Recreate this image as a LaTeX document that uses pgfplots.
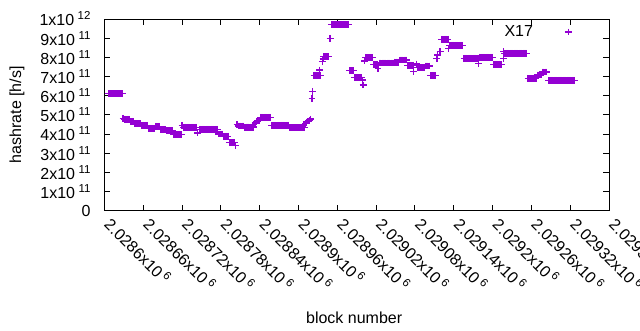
\documentclass[border=0pt]{standalone}
\usepackage{pgfplots}
\pgfplotsset{compat=1.18}
\usepackage{fontspec}
\setmainfont{Liberation Sans}
\definecolor{dviolet}{RGB}{148,0,211}
\newcommand{\fs}{\fontsize{16}{19}\selectfont}
\newcommand{\xl}[1]{#1x10\hspace{3pt}\raisebox{5.5pt}{\fontsize{11.5}{12}\selectfont 6}}
\newcommand{\yl}[2]{#1x10\hspace{3.5pt}\raisebox{6pt}{\fontsize{11.5}{12}\selectfont #2}}
\begin{document}
\begin{tikzpicture}
\useasboundingbox (-104.3pt,-119.3pt) rectangle (535.7pt,210.7pt);
\begin{axis}[
  scale only axis, width=504.7pt, height=191.7pt,
  at={(0pt,0pt)}, anchor=south west,
  xmin=2028600, xmax=2029380, ymin=0, ymax=10,
  scaled x ticks=false, scaled y ticks=false,
  axis line style={black, line width=1pt},
  tick style={black, line width=0.8pt},
  major tick length=6pt, tick align=inside,
  xtick={2028600,2028660,2028720,2028780,2028840,2028900,2028960,2029020,2029080,2029140,2029200,2029260,2029320,2029380},
  xticklabels={{\xl{2.0286}},{\xl{2.02866}},{\xl{2.02872}},{\xl{2.02878}},{\xl{2.02884}},{\xl{2.0289}},{\xl{2.02896}},{\xl{2.02902}},{\xl{2.02908}},{\xl{2.02914}},{\xl{2.0292}},{\xl{2.02926}},{\xl{2.02932}},{\xl{2.02938}}},
  ytick={0,1,2,3,4,5,6,7,8,9,10},
  yticklabels={0,{\yl{1}{11}},{\yl{2}{11}},{\yl{3}{11}},{\yl{4}{11}},{\yl{5}{11}},{\yl{6}{11}},{\yl{7}{11}},{\yl{8}{11}},{\yl{9}{11}},{\yl{1}{12}}},
  xticklabel style={font=\fs, xshift=-1pt, yshift=-15pt, rotate=-45, anchor=base west, inner sep=0pt},
  yticklabel style={font=\fs, anchor=east, inner sep=0pt, xshift=-13.6pt},
  every axis x label/.style={at={(axis description cs:0.4951,-0.5858)}, anchor=base, font=\fs},
  every axis y label/.style={at={(axis description cs:-0.1650,0.5)}, rotate=90, anchor=base, font=\fs},
  xlabel={block number},
  ylabel={hashrate [h/s]},
  legend plot pos=right,
  legend style={draw=none, fill=none, at={(axis description cs:0.9326,0.932)}, anchor=east, legend cell align=right, column sep=30pt, font=\fs},
]
\addplot[only marks, mark=+, color=dviolet, mark size=3.4pt, line width=1.3pt] coordinates {
(2028606,6.10)(2028608,6.10)(2028610,6.10)(2028612,6.10)(2028614,6.10)(2028616,6.10)(2028618,6.10)(2028620,6.10)(2028622,6.10)(2028624,6.10)(2028626,6.10)(2028628,6.10)
(2028629,4.82)
(2028631,4.77)(2028633,4.77)(2028635,4.77)(2028637,4.77)(2028639,4.77)
(2028641,4.64)(2028643,4.64)(2028645,4.64)
(2028647,4.53)(2028649,4.53)(2028651,4.53)(2028653,4.53)(2028655,4.53)
(2028657,4.45)(2028659,4.45)(2028661,4.45)(2028663,4.45)(2028665,4.45)(2028667,4.45)
(2028669,4.30)(2028671,4.30)(2028673,4.30)(2028675,4.30)(2028677,4.30)
(2028679,4.40)(2028681,4.40)(2028683,4.40)(2028685,4.40)
(2028687,4.23)(2028689,4.23)(2028691,4.23)(2028693,4.23)(2028695,4.23)
(2028697,4.18)(2028699,4.18)(2028701,4.18)(2028703,4.18)(2028705,4.18)
(2028707,3.97)(2028709,3.97)(2028711,3.97)(2028713,3.97)(2028715,3.97)(2028717,3.97)(2028719,3.97)
(2028720,4.45)
(2028722,4.35)(2028724,4.35)(2028726,4.35)(2028728,4.35)(2028730,4.35)(2028732,4.35)(2028734,4.35)(2028736,4.35)(2028738,4.35)(2028740,4.35)(2028742,4.35)
(2028744,4.05)
(2028747,4.25)(2028749,4.25)(2028751,4.25)(2028753,4.25)(2028755,4.25)(2028757,4.25)(2028759,4.25)(2028761,4.25)(2028763,4.25)(2028765,4.25)(2028767,4.25)(2028769,4.25)(2028771,4.25)(2028773,4.25)(2028775,4.25)
(2028777,4.00)(2028779,4.00)(2028781,4.00)(2028783,4.00)
(2028785,3.88)(2028787,3.88)(2028789,3.88)(2028791,3.88)
(2028793,3.55)(2028795,3.55)(2028797,3.55)(2028799,3.55)(2028801,3.55)
(2028803,3.40)
(2028805,4.48)
(2028807,4.42)(2028809,4.42)(2028811,4.42)(2028813,4.42)(2028815,4.42)
(2028817,4.36)(2028819,4.36)(2028821,4.36)(2028823,4.36)(2028825,4.36)(2028827,4.36)(2028829,4.36)(2028831,4.36)
(2028833,4.58)(2028835,4.64)(2028837,4.68)(2028839,4.72)
(2028841,4.87)(2028843,4.87)(2028845,4.87)(2028847,4.87)(2028849,4.87)(2028851,4.87)(2028853,4.87)(2028855,4.87)(2028857,4.87)
(2028859,4.45)(2028861,4.45)(2028863,4.45)(2028865,4.45)(2028867,4.45)(2028869,4.45)(2028871,4.45)(2028873,4.45)(2028875,4.45)(2028877,4.45)(2028879,4.45)(2028881,4.45)(2028883,4.45)(2028885,4.45)
(2028887,4.33)(2028889,4.33)(2028891,4.33)(2028893,4.33)(2028895,4.33)(2028897,4.33)(2028899,4.33)(2028901,4.33)(2028903,4.33)(2028905,4.33)(2028907,4.33)(2028909,4.33)
(2028911,4.55)(2028913,4.62)(2028915,4.68)(2028917,4.72)(2028919,4.78)
(2028921,5.86)(2028922,6.21)
(2028924,7.06)(2028926,7.06)(2028928,7.06)(2028930,7.06)(2028932,7.06)(2028934,7.06)
(2028933,7.34)
(2028937,7.77)(2028938,7.91)
(2028939,8.03)(2028941,8.03)(2028943,8.03)(2028945,8.03)(2028947,8.03)
(2028949,8.99)
(2028951,9.73)(2028953,9.73)(2028955,9.73)(2028957,9.73)(2028959,9.73)(2028961,9.73)(2028963,9.73)(2028965,9.73)(2028967,9.73)(2028969,9.73)(2028971,9.73)(2028973,9.73)(2028975,9.73)(2028977,9.73)
(2028979,7.30)(2028981,7.30)(2028983,7.30)(2028985,7.30)
(2028987,6.94)(2028989,6.94)(2028991,6.94)(2028993,6.94)(2028995,6.94)(2028997,6.94)
(2028999,6.82)(2029000,6.56)
(2029002,7.81)
(2029004,7.98)(2029006,7.98)(2029008,7.98)(2029010,7.98)(2029012,7.98)(2029014,7.98)
(2029016,7.64)(2029018,7.64)(2029020,7.64)(2029022,7.64)
(2029023,7.43)
(2029025,7.70)(2029027,7.70)(2029029,7.70)(2029031,7.70)(2029033,7.70)(2029035,7.70)(2029037,7.70)(2029039,7.70)(2029041,7.70)(2029043,7.70)(2029045,7.70)(2029047,7.70)
(2029049,7.75)(2029051,7.75)(2029053,7.75)(2029055,7.75)
(2029057,7.86)(2029059,7.86)(2029061,7.86)(2029063,7.86)(2029065,7.86)(2029067,7.86)
(2029069,7.58)(2029071,7.58)(2029073,7.58)(2029075,7.58)(2029077,7.58)
(2029078,7.25)
(2029082,7.65)
(2029084,7.46)(2029086,7.46)(2029088,7.46)(2029090,7.46)(2029092,7.46)(2029094,7.46)
(2029096,7.55)(2029098,7.55)(2029100,7.55)(2029102,7.55)
(2029104,7.04)(2029106,7.04)(2029108,7.04)(2029110,7.04)(2029112,7.04)
(2029114,7.95)(2029115,8.12)(2029119,8.29)
(2029121,8.94)(2029123,8.94)(2029125,8.94)(2029127,8.94)(2029129,8.94)(2029131,8.94)
(2029132,8.47)
(2029134,8.63)(2029136,8.63)(2029138,8.63)(2029140,8.63)(2029142,8.63)(2029144,8.63)(2029146,8.63)(2029148,8.63)(2029150,8.63)(2029152,8.63)(2029154,8.63)
(2029156,7.95)(2029158,7.95)(2029160,7.95)(2029162,7.95)(2029164,7.95)(2029166,7.95)(2029168,7.95)(2029170,7.95)(2029172,7.95)(2029174,7.95)(2029176,7.95)(2029178,7.95)
(2029178,7.69)
(2029180,8.00)(2029182,8.00)(2029184,8.00)(2029186,8.00)(2029188,8.00)(2029190,8.00)(2029192,8.00)(2029194,8.00)(2029196,8.00)(2029198,8.00)(2029200,8.00)
(2029202,7.64)(2029204,7.64)(2029206,7.64)(2029208,7.64)(2029210,7.64)(2029212,7.64)(2029214,7.64)
(2029217,8.29)(2029217,7.95)
(2029219,8.21)(2029221,8.21)(2029223,8.21)(2029225,8.21)(2029227,8.21)(2029229,8.21)(2029231,8.21)(2029233,8.21)(2029235,8.21)(2029237,8.21)(2029239,8.21)(2029241,8.21)(2029243,8.21)(2029245,8.21)(2029247,8.21)(2029249,8.21)(2029251,8.21)(2029253,8.21)
(2029255,6.90)(2029257,6.90)(2029259,6.90)(2029261,6.90)(2029263,6.90)(2029265,6.90)(2029267,6.90)
(2029269,7.08)(2029271,7.08)(2029273,7.08)(2029275,7.08)
(2029277,7.24)(2029279,7.24)(2029281,7.24)(2029283,7.24)
(2029287,6.80)(2029289,6.80)(2029291,6.80)(2029293,6.80)(2029295,6.80)(2029297,6.80)(2029299,6.80)(2029301,6.80)(2029303,6.80)(2029305,6.80)(2029307,6.80)(2029309,6.80)(2029311,6.80)(2029313,6.80)(2029315,6.80)(2029317,6.80)(2029319,6.80)(2029321,6.80)(2029323,6.80)(2029325,6.80)(2029327,6.80)
};
\addlegendentry{X17}
\end{axis}
\end{tikzpicture}
\end{document}
